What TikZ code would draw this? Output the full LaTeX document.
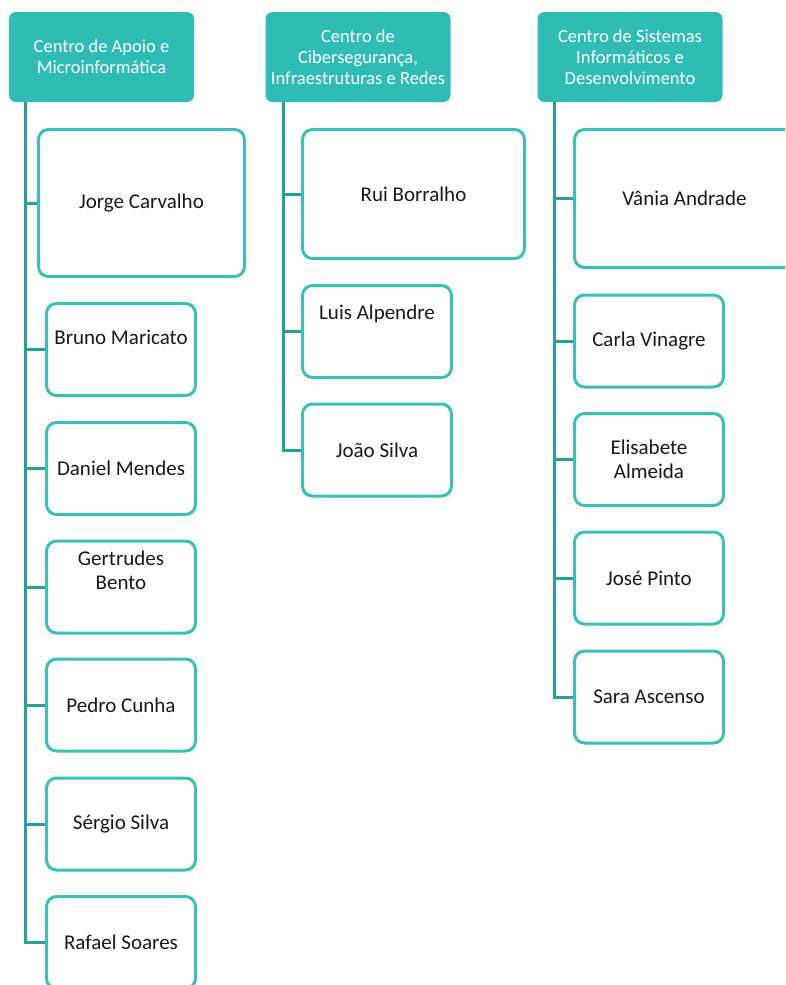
\documentclass[tikz,border=0pt]{standalone}
\usepackage{fontspec}
\setmainfont{Carlito}
\definecolor{tealfill}{HTML}{2FBCB4}
\definecolor{tealline}{HTML}{3BC0B8}
\definecolor{tealdark}{HTML}{28A097}
\begin{document}
\begin{tikzpicture}[x=1pt,y=-1pt]
  \tikzset{ hd/.style={rectangle,rounded corners=7pt,fill=tealfill,text=white,align=center,minimum width=185pt,minimum height=90pt,inner sep=2pt,font=\fontsize{18.5}{21}\selectfont},
    p/.style={rectangle,rounded corners=10pt,draw=tealline,line width=3pt,fill=white,align=center,minimum width=149pt,minimum height=92pt,inner sep=2pt,text=black!90,font=\fontsize{21}{24}\selectfont},
    lift/.style={text depth=#1},
    ln/.style={draw=tealdark,line width=3pt},
  }
  \useasboundingbox (0,0) rectangle (785,985);
  \clip (0,0) rectangle (785,985);

  % headers
  \node[hd] (ca) at (101.5, 57) {Centro de Apoio e\\Microinformática};
  \node[hd] (cc) at (358, 57) {Centro de\\Cibersegurança,\\Infraestruturas e Redes};
  \node[hd] (cs) at (630, 57) {Centro de Sistemas\\Informáticos e\\Desenvolvimento};

  \coordinate (ca0) at ([xshift=17pt]ca.south west);
  \coordinate (cc0) at ([xshift=18pt]cc.south west);
  \coordinate (cs0) at ([xshift=17pt]cs.south west);

  % Centro de Apoio e Microinformática
  \node[p, minimum width=206pt, minimum height=147pt] (jorge) at (141.5, 203) {Jorge Carvalho};
  \node[p, lift=24pt] (bruno) at (121, 349.5) {Bruno Maricato};
  \node[p] (daniel) at (121, 468.5) {Daniel Mendes};
  \node[p, lift=34pt] (gertrudes) at (121, 587) {Gertrudes\\Bento};
  \node[p] (pedro) at (121, 705) {Pedro Cunha};
  \node[p] (sergio) at (121, 824) {Sérgio Silva};
  \node[p] (rafael) at (121, 942.5) {Rafael Soares};

  % Centro de Cibersegurança, Infraestruturas e Redes
  \node[p, minimum width=222pt, minimum height=129pt] (rui) at (413.5, 194) {Rui Borralho};
  \node[p, lift=38pt] (luis) at (377, 331.5) {Luis Alpendre};
  \node[p] (joao) at (377, 450) {João Silva};

  % Centro de Sistemas Informáticos e Desenvolvimento
  \node[p, minimum width=220pt, minimum height=138pt] (vania) at (684.5, 198.5) {Vânia Andrade};
  \node[p] (carla) at (649, 341) {Carla Vinagre};
  \node[p] (elisabete) at (649, 459.5) {Elisabete\\Almeida};
  \node[p] (jose) at (649, 578) {José Pinto};
  \node[p] (sara) at (649, 697) {Sara Ascenso};

  \foreach \n in {jorge,bruno,daniel,gertrudes,pedro,sergio,rafael}
    \draw[ln] (ca0) |- (\n.west);
  \foreach \n in {rui,luis,joao}
    \draw[ln] (cc0) |- (\n.west);
  \foreach \n in {vania,carla,elisabete,jose,sara}
    \draw[ln] (cs0) |- (\n.west);
\end{tikzpicture}
\end{document}
